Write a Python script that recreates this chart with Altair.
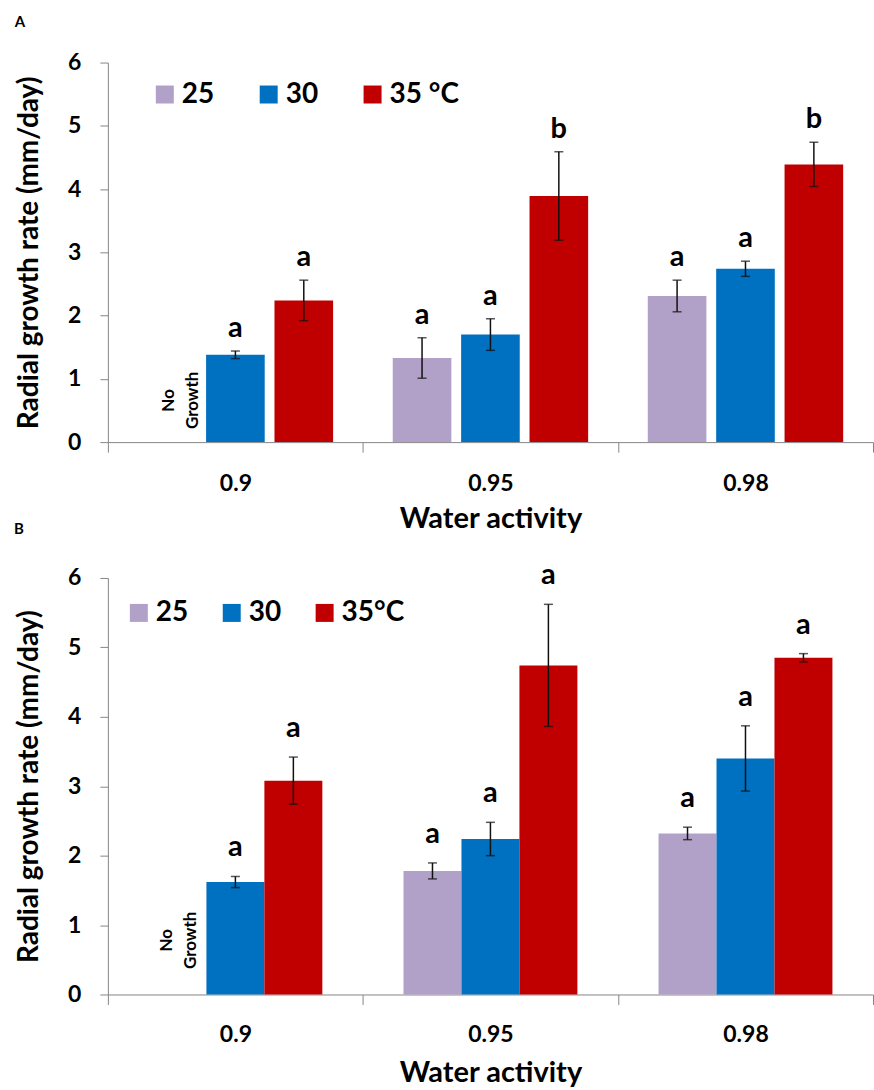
import altair as alt
import pandas as pd

FONT = "Lato"
AXIS_GREY = "#868686"

water_activity = ["0.9", "0.95", "0.98"]
bar_colors = ["#B1A0C7", "#0070C0", "#C00000"]

# Panel A: mean radial growth rate (mm/day), error half-width and letters,
# one list per incubation temperature, in water-activity order
temps_a = ["25", "30", "35 °C"]
a_rate_25 = [None, 1.33, 2.31]
a_rate_30 = [1.38, 1.70, 2.74]
a_rate_35 = [2.24, 3.89, 4.39]
a_err_25 = [None, 0.32, 0.25]
a_err_30 = [0.06, 0.25, 0.12]
a_err_35 = [0.32, 0.70, 0.35]
a_letter_25 = ["", "a", "a"]
a_letter_30 = ["a", "a", "a"]
a_letter_35 = ["a", "b", "b"]

# Panel B
temps_b = ["25", "30", "35°C"]
b_rate_25 = [None, 1.78, 2.32]
b_rate_30 = [1.62, 2.24, 3.40]
b_rate_35 = [3.08, 4.74, 4.85]
b_err_25 = [None, 0.115, 0.09]
b_err_30 = [0.08, 0.24, 0.47]
b_err_35 = [0.34, 0.88, 0.06]
b_letter_25 = ["", "a", "a"]
b_letter_30 = ["a", "a", "a"]
b_letter_35 = ["a", "a", "a"]

no_growth_note = "No\nGrowth"


def build_frame(temps, rates, errs, letters):
    rows = []
    for t, r_list, e_list, l_list in zip(temps, rates, errs, letters):
        for aw, r, e, l in zip(water_activity, r_list, e_list, l_list):
            if r is None:
                continue
            rows.append(dict(aw=aw, temp=t, rate=r, lo=r - e, hi=r + e, letter=l))
    return pd.DataFrame(rows)


df_a = build_frame(temps_a, [a_rate_25, a_rate_30, a_rate_35],
                   [a_err_25, a_err_30, a_err_35],
                   [a_letter_25, a_letter_30, a_letter_35])
df_b = build_frame(temps_b, [b_rate_25, b_rate_30, b_rate_35],
                   [b_err_25, b_err_30, b_err_35],
                   [b_letter_25, b_letter_30, b_letter_35])

WIDTH = 766


def panel(df, temps, height, inner_pad, outer_pad, legend_x, legend_y,
          legend_gap, label_pad, title_y, letter_dy, note_y, note_dy,
          extra_layers):
    x_enc = alt.X(
        "aw:N", sort=water_activity,
        scale=alt.Scale(type="band", domain=water_activity,
                        paddingInner=0, paddingOuter=0),
        axis=alt.Axis(title="Water activity", labelAngle=0, tickBand="extent",
                      tickSize=10, labelPadding=label_pad, titleY=title_y,
                      titleBaseline="alphabetic", domainColor=AXIS_GREY,
                      tickColor=AXIS_GREY, labelFontSize=23, titleFontSize=29,
                      labelFontWeight="bold", titleFontWeight="bold",
                      labelColor="black", titleColor="black",
                      labelFont=FONT, titleFont=FONT),
    )
    xo_enc = alt.XOffset(
        "temp:N", sort=temps,
        scale=alt.Scale(type="band", domain=temps,
                        paddingInner=inner_pad, paddingOuter=outer_pad),
    )
    y_scale = alt.Scale(domain=[0, 6], nice=False)

    base = alt.Chart(df).encode(x=x_enc, xOffset=xo_enc)

    bars = base.mark_bar().encode(
        y=alt.Y("rate:Q", scale=y_scale,
                axis=alt.Axis(values=[0, 1, 2, 3, 4, 5, 6], format="d",
                              grid=False, tickSize=8, labelPadding=19,
                              labelFontSize=23, labelFontWeight="bold",
                              labelFont=FONT, labelColor="black",
                              domainColor=AXIS_GREY, tickColor=AXIS_GREY,
                              title="Radial growth rate (mm/day)",
                              titleX=-78, titleY=height / 2, titleAngle=270,
                              titleAlign="center", titleBaseline="middle",
                              titleFontSize=28, titleFontWeight="bold",
                              titleFont=FONT, titleColor="black")),
        color=alt.Color("temp:N",
                        scale=alt.Scale(domain=temps, range=bar_colors),
                        legend=alt.Legend(orient="none", legendX=legend_x,
                                          legendY=legend_y,
                                          direction="horizontal", title=None,
                                          symbolType="square", symbolSize=324,
                                          symbolStrokeWidth=0,
                                          labelFontSize=28, labelFont=FONT,
                                          labelFontWeight="bold",
                                          labelColor="black", labelOffset=3,
                                          columnPadding=legend_gap,
                                          padding=0)),
    )
    whiskers = base.mark_rule(color="#111111", strokeWidth=1.5).encode(
        y=alt.Y("lo:Q", scale=y_scale), y2="hi:Q")
    cap_lo = base.mark_tick(color="#111111", size=9, thickness=1.5).encode(
        y=alt.Y("lo:Q", scale=y_scale))
    cap_hi = base.mark_tick(color="#111111", size=9, thickness=1.5).encode(
        y=alt.Y("hi:Q", scale=y_scale))
    letters = base.mark_text(baseline="alphabetic", dy=letter_dy, fontSize=29,
                             fontWeight="bold", font=FONT,
                             color="black").encode(
        y=alt.Y("hi:Q", scale=y_scale), text="letter:N")

    note = alt.Chart(pd.DataFrame({"aw": ["0.9"], "temp": [temps[0]],
                                   "note": [no_growth_note]})).mark_text(
        angle=270, lineBreak="\n", align="center", baseline="middle",
        fontSize=17, fontWeight="bold", font=FONT, color="black",
        lineHeight=24, dy=note_dy,
    ).encode(x=x_enc, xOffset=xo_enc, y=alt.datum(note_y), text="note:N")

    return alt.layer(bars, whiskers, cap_lo, cap_hi, letters, note,
                     *extra_layers).properties(width=WIDTH, height=height)


HEIGHT_A = 380
HEIGHT_B = 417


def panel_tag(tag, x_px, y_px):
    return alt.Chart(pd.DataFrame({"tag": [tag]})).mark_text(
        fontSize=15, fontWeight="bold", font=FONT, color="black",
        align="center", baseline="middle",
    ).encode(text="tag:N", x=alt.value(x_px), y=alt.value(y_px))


chart_a = panel(df_a, temps_a, HEIGHT_A, inner_pad=1 / 7, outer_pad=0.436,
                legend_x=43, legend_y=18, legend_gap=40, label_pad=20,
                title_y=85, letter_dy=-14, note_y=0.66, note_dy=2,
                extra_layers=[panel_tag("A", -88, -41),
                              panel_tag("B", -89, HEIGHT_A + 87)])
chart_b = panel(df_b, temps_b, HEIGHT_B, inner_pad=0, outer_pad=0.70,
                legend_x=17, legend_y=21, legend_gap=29, label_pad=19,
                title_y=87, letter_dy=-20, note_y=0.78, note_dy=-10,
                extra_layers=[])

chart = alt.vconcat(chart_a, chart_b, spacing=24).resolve_scale(
    color="independent", xOffset="independent", x="independent",
    y="independent",
).properties(
    padding={"left": 14, "top": 14, "right": 0, "bottom": 0},
).configure_view(stroke=None)

chart.save("out.html", embed_options={"renderer": "svg", "actions": False})
